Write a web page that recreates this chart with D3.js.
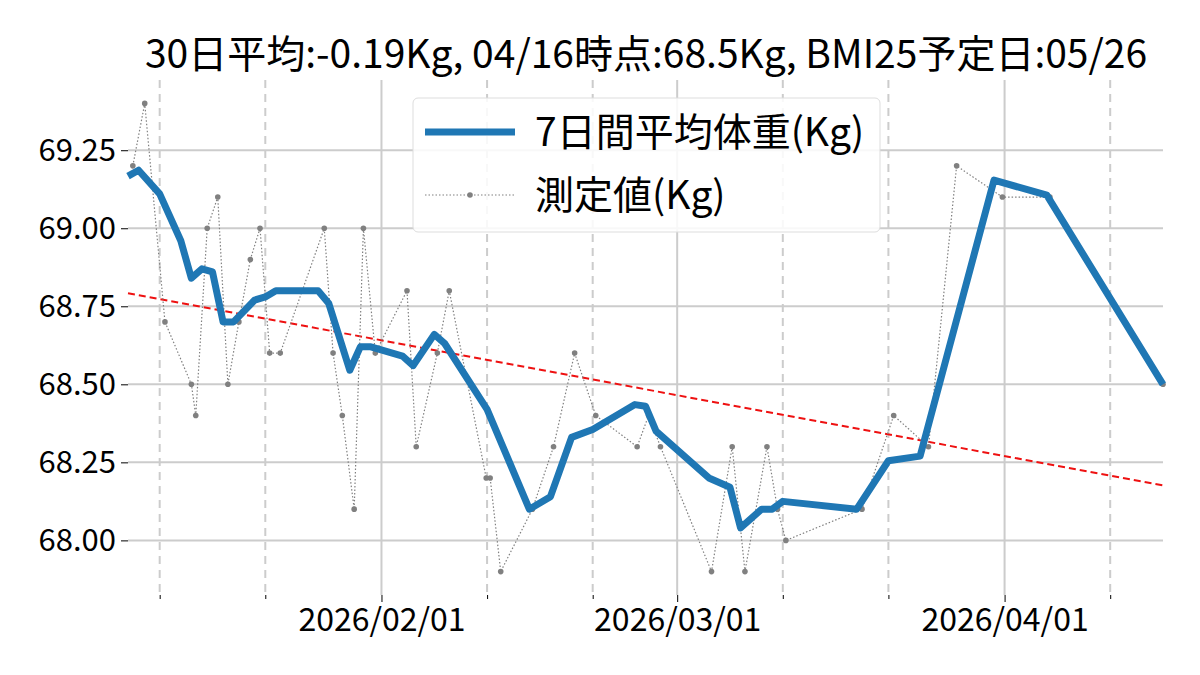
<!DOCTYPE html>
<html><head><meta charset="utf-8">
<script src="https://cdn.jsdelivr.net/npm/d3@7"></script>
<style>body{margin:0;background:#fff}text{font-family:"Noto Sans CJK JP","Noto Sans",sans-serif}</style>
</head><body><svg id="c" width="1200" height="675"></svg>
<script>
const titleText = "30日平均:-0.19Kg, 04/16時点:68.5Kg, BMI25予定日:05/26";
const measDates = ["2026-01-08T11:00","2026-01-09T14:00","2026-01-11T12:00","2026-01-14T00:00","2026-01-14T10:00","2026-01-15T12:00","2026-01-16T12:00","2026-01-17T11:00","2026-01-18T12:00","2026-01-19T14:00","2026-01-20T12:00","2026-01-21T10:00","2026-01-22T10:00","2026-01-26T14:00","2026-01-27T10:00","2026-01-28T07:00","2026-01-29T10:00","2026-01-30T07:00","2026-01-31T10:00","2026-02-03T10:00","2026-02-04T07:00","2026-02-06T07:00","2026-02-07T10:00","2026-02-10T22:00","2026-02-11T07:00","2026-02-12T07:00","2026-02-15T07:00","2026-02-17T07:00","2026-02-19T07:00","2026-02-21T07:00","2026-02-25T05:00","2026-02-26T07:00","2026-02-27T10:00","2026-03-04T06:00","2026-03-06T05:00","2026-03-07T10:00","2026-03-09T12:00","2026-03-10T12:00","2026-03-11T07:00","2026-03-18T12:00","2026-03-21T12:00","2026-03-24T19:00","2026-03-27T11:00","2026-03-31T19:00","2026-04-05T07:00","2026-04-16T00:00"];
const measValues = [69.2,69.4,68.7,68.5,68.4,69.0,69.1,68.5,68.7,68.9,69.0,68.6,68.6,69.0,68.6,68.4,68.1,69.0,68.6,68.8,68.3,68.6,68.8,68.2,68.2,67.9,68.1,68.3,68.6,68.4,68.3,68.4,68.3,67.9,68.3,67.9,68.3,68.1,68.0,68.1,68.4,68.3,69.2,69.1,69.1,68.5];
const avgDates = ["2026-01-08","2026-01-09","2026-01-11","2026-01-13","2026-01-14","2026-01-15","2026-01-16","2026-01-17","2026-01-18","2026-01-20","2026-01-21","2026-01-22","2026-01-26","2026-01-27","2026-01-29","2026-01-30","2026-01-31","2026-02-03","2026-02-04","2026-02-06","2026-02-07","2026-02-11","2026-02-15","2026-02-17","2026-02-19","2026-02-21","2026-02-25","2026-02-26","2026-02-27","2026-03-04","2026-03-06","2026-03-07","2026-03-09","2026-03-10","2026-03-11","2026-03-18","2026-03-21","2026-03-24","2026-03-31","2026-04-05","2026-04-16"];
const avgValues = [69.167,69.186,69.11,68.96,68.84,68.87,68.86,68.70,68.70,68.77,68.78,68.80,68.80,68.76,68.545,68.62,68.62,68.59,68.56,68.66,68.63,68.42,68.10,68.14,68.33,68.355,68.435,68.43,68.35,68.20,68.17,68.04,68.10,68.10,68.125,68.10,68.255,68.27,69.154,69.106,68.50];
const trendDates = ["2026-01-08","2026-04-16"];
const trendValues = [68.792,68.176];
const yTicks = [68.00,68.25,68.50,68.75,69.00,69.25];
const majorTickDates = ["2026-02-01","2026-03-01","2026-04-01"];
const minorTickDates = ["2026-01-11","2026-01-21","2026-02-11","2026-02-21","2026-03-11","2026-03-21","2026-04-11"];
const legendLabels = ["7日間平均体重(Kg)","測定値(Kg)"];

const P = s => new Date(s.length===10 ? s+"T00:00" : s);
const svg = d3.select("#c");
const L=128,R=1163,T=80,B=595;
const x = d3.scaleTime().domain([P("2026-01-08"),P("2026-04-16")]).range([L,R]);
const y = d3.scaleLinear().domain([67.825,69.475]).range([B,T]);
const g = svg.append("g");
g.selectAll(".hg").data(yTicks).join("line").attr("x1",L).attr("x2",R).attr("y1",d=>y(d)).attr("y2",d=>y(d)).attr("stroke","#cccccc").attr("stroke-width",2);
g.selectAll(".mg").data(majorTickDates).join("line").attr("x1",d=>x(P(d))).attr("x2",d=>x(P(d))).attr("y1",T).attr("y2",B).attr("stroke","#cccccc").attr("stroke-width",2);
g.selectAll(".ng").data(minorTickDates).join("line").attr("x1",d=>x(P(d))).attr("x2",d=>x(P(d))).attr("y1",T).attr("y2",B).attr("stroke","#cccccc").attr("stroke-width",2).attr("stroke-dasharray","8,6");
const ya = d3.axisLeft(y).tickValues(yTicks).tickFormat(d3.format(".2f")).tickSize(7).tickPadding(5);
const yg = svg.append("g").attr("transform",`translate(${L},0)`).call(ya);
yg.select(".domain").remove();
yg.selectAll("text").attr("font-size",31).attr("fill","#000");
const xa = d3.axisBottom(x).tickValues(majorTickDates.map(P)).tickFormat(d3.timeFormat("%Y/%m/%d")).tickSize(7).tickPadding(6);
const xg = svg.append("g").attr("transform",`translate(0,${B})`).call(xa);
xg.select(".domain").remove();
xg.selectAll("text").attr("font-size",32).attr("fill","#000");
const xm = d3.axisBottom(x).tickValues(minorTickDates.map(P)).tickFormat("").tickSize(4);
const xmg = svg.append("g").attr("transform",`translate(0,${B})`).call(xm);
xmg.select(".domain").remove();
svg.append("path").datum(trendDates.map((d,i)=>[P(d),trendValues[i]])).attr("d",d3.line().x(d=>x(d[0])).y(d=>y(d[1]))).attr("fill","none").attr("stroke","#ee1111").attr("stroke-width",2).attr("stroke-dasharray","7,4");
const meas = measDates.map((d,i)=>[P(d),measValues[i]]);
svg.append("path").datum(meas).attr("d",d3.line().x(d=>x(d[0])).y(d=>y(d[1]))).attr("fill","none").attr("stroke","#808080").attr("stroke-width",1.2).attr("stroke-dasharray","1.5,2");
svg.selectAll(".pt").data(meas).join("circle").attr("cx",d=>x(d[0])).attr("cy",d=>y(d[1])).attr("r",2.8).attr("fill","#808080");
svg.append("path").datum(avgDates.map((d,i)=>[P(d),avgValues[i]])).attr("d",d3.line().x(d=>x(d[0])).y(d=>y(d[1]))).attr("fill","none").attr("stroke","#1f77b4").attr("stroke-width",7).attr("stroke-linejoin","round");
svg.append("text").attr("x",646).attr("y",68).attr("text-anchor","middle").attr("font-size",39).text(titleText);
const lg = svg.append("g");
lg.append("rect").attr("x",413).attr("y",98).attr("width",467).attr("height",134).attr("rx",5).attr("fill","#fff").attr("fill-opacity",0.85).attr("stroke","#dddddd");
lg.append("line").attr("x1",425).attr("x2",515).attr("y1",132).attr("y2",132).attr("stroke","#1f77b4").attr("stroke-width",7);
lg.append("line").attr("x1",425).attr("x2",515).attr("y1",195).attr("y2",195).attr("stroke","#808080").attr("stroke-width",1.2).attr("stroke-dasharray","1.5,2");
lg.append("circle").attr("cx",470).attr("cy",195).attr("r",2.8).attr("fill","#808080");
lg.selectAll(".lt").data(legendLabels).join("text").attr("x",535).attr("y",(d,i)=>146+i*63).attr("font-size",39).text(d=>d);
</script></body></html>
